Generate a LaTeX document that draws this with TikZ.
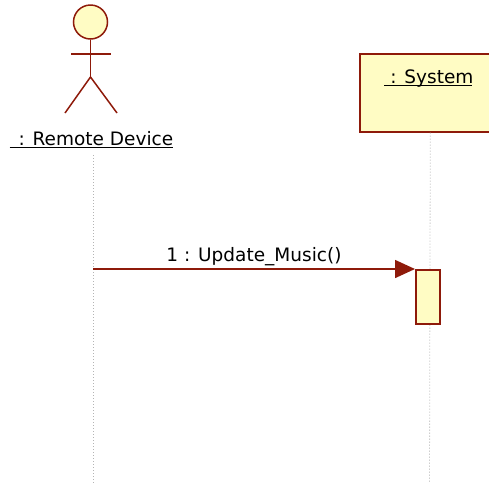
\documentclass[tikz,border=0pt]{standalone}
\usepackage{fontspec}
\setmainfont{DejaVu Sans}
\usetikzlibrary{arrows.meta}
\definecolor{umlred}{HTML}{8E1A0A}
\definecolor{umlfill}{HTML}{FFFCC4}
\definecolor{lifegrey}{HTML}{B4B4B4}
\begin{document}
\begin{tikzpicture}[x=1pt,y=-1pt,
  actorline/.style={draw=umlred, line width=1.5pt},
  headbox/.style={circle, draw=umlred, fill=umlfill, line width=1.5pt, minimum size=34pt, inner sep=0pt},
  lbl/.style={inner sep=0pt, font=\fontsize{18.5}{22}\selectfont, text=black},
  uline/.style={draw=black, line width=0.9pt},
  objbox/.style={draw=umlred, fill=umlfill, line width=1.6pt, inner sep=0pt},
  actbox/.style={draw=umlred, fill=umlfill, line width=1.6pt, inner sep=0pt, minimum width=24pt, minimum height=54pt},
  lifeline/.style={draw=lifegrey, line width=0.8pt, dash pattern=on 1pt off 2pt},
  msg/.style={draw=umlred, line width=1.6pt, -{Triangle[length=20pt,width=18pt]}}
]
\useasboundingbox (0,0) rectangle (489,483);
\clip (0,0) rectangle (489,483);
% actor
\node[headbox] (head) at (90.5,22) {};
\coordinate (hip) at (90.5,77);
\coordinate (armL) at (71,54);
\coordinate (armR) at (111,54);
\coordinate (legL) at (65,113);
\coordinate (legR) at (117,113);
\draw[actorline] (head.south) -- (hip);
\draw[actorline] (armL) -- (armR);
\draw[actorline] (legL) -- (hip) -- (legR);
\node[lbl, anchor=base] (rdlab) at (93,145) {\ : Remote Device};
\draw[uline] ([xshift=-3pt,yshift=-2pt]rdlab.base west) -- ([yshift=-2pt]rdlab.base east);
% system object
\node[objbox, anchor=north west, minimum width=141pt, minimum height=78pt] (sys) at (359,53) {};
\node[lbl, anchor=base] (syslab) at (429,83) {\ : System};
\draw[uline] ([yshift=-2.5pt]syslab.base west) -- ([xshift=-2pt,yshift=-2.5pt]syslab.base east);
% lifelines
\coordinate (l1top) at (93,155);
\coordinate (l1bot) at (93,483);
\coordinate (l2bot) at (429.5,483);
\draw[lifeline] (l1top) -- (l1bot);
\draw[lifeline] (sys.south) -- (l2bot);
% activation
\node[actbox, anchor=north west] (act) at (415,269) {};
% message
\coordinate (m1) at (93,269);
\draw[msg] (m1) -- (act.north west);
\node[lbl, anchor=base] (mlab) at (254,261.5) {1 : Update\_Music()};
\end{tikzpicture}
\end{document}
